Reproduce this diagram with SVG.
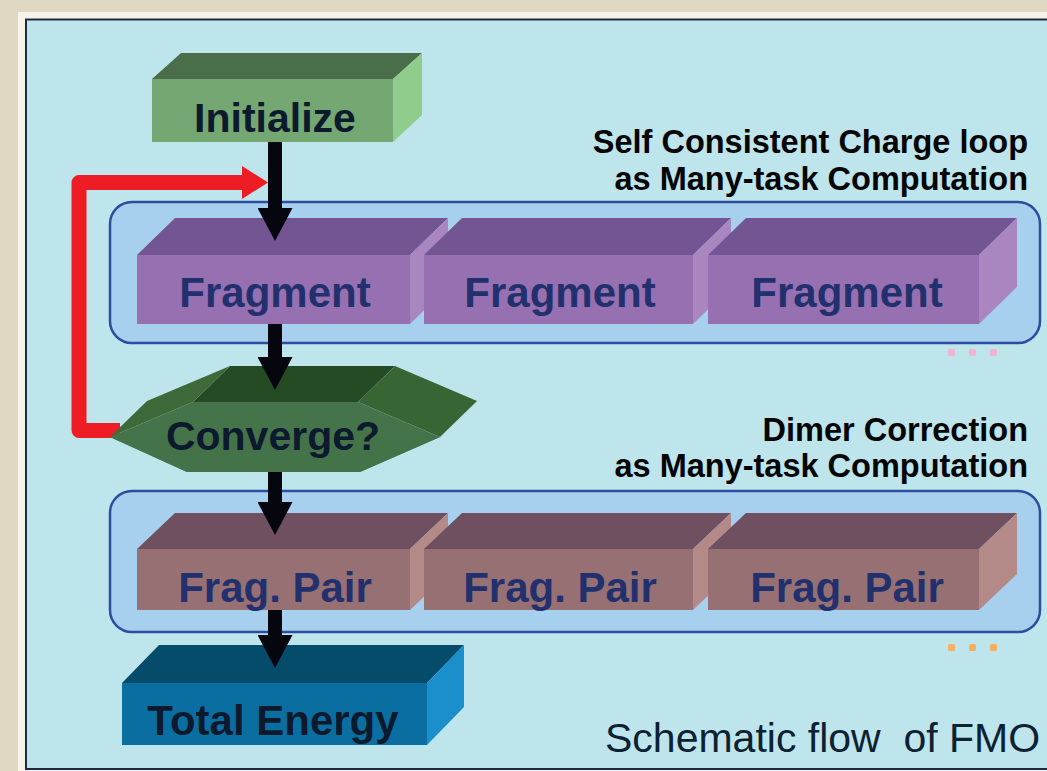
<svg xmlns="http://www.w3.org/2000/svg" width="1047" height="771" viewBox="0 0 1047 771">
<defs>
<style>
.lbl{font-family:"Liberation Sans",Arial,sans-serif;font-weight:bold;text-anchor:middle;}
.dark{fill:#0d1a2e;}
.navy{fill:#22306e;}
.cap{font-family:"Liberation Sans",Arial,sans-serif;font-weight:bold;font-size:32.5px;fill:#050505;text-anchor:end;}
.cont{fill:#a7d0ee;stroke:#2d4e9e;stroke-width:2.5;}
.fr-top{fill:#735593;}
.fr-front{fill:#9670b0;}
.fr-side{fill:#a986bf;}
.fp-top{fill:#6f5060;}
.fp-front{fill:#977073;}
.fp-side{fill:#b38a88;}
.shaft{stroke:#06060f;stroke-width:14;fill:none;marker-end:url(#bk);}
</style>
<marker id="bk" markerUnits="userSpaceOnUse" viewBox="0 0 33 35" markerWidth="33" markerHeight="35" refX="0" refY="17.5" orient="auto">
<path d="M0,0 L33,17.5 L0,35 z" fill="#06060f"/>
</marker>
<marker id="rd" markerUnits="userSpaceOnUse" viewBox="0 0 26 33" markerWidth="26" markerHeight="33" refX="0" refY="16.5" orient="auto">
<path d="M0,0 L26,16.5 L0,33 z" fill="#ee1c24"/>
</marker>
</defs>

<rect x="0" y="0" width="1047" height="771" fill="#dfd9c3"/>
<rect x="18" y="12" width="1040" height="770" fill="#f6f4ea"/>
<rect x="26" y="19.5" width="1030" height="749.5" fill="#bee4ec" stroke="#1a2a40" stroke-width="2"/>

<!-- red loop connector behind hexagon -->
<g id="loop">
<path d="M120,430.5 H79 V182.5 H242" fill="none" stroke="#ee1c24" stroke-width="15" stroke-linejoin="round" marker-end="url(#rd)"/>
</g>

<g id="container-scc">
<rect class="cont" x="110" y="202" width="930" height="141" rx="22"/>
</g>
<g id="container-dimer">
<rect class="cont" x="110" y="491" width="930" height="141" rx="22"/>
</g>

<g id="initialize">
<polygon points="152,79 181,53 422,53 393,79" fill="#4a6e4a"/>
<polygon points="393,79 422,53 422,115 393,142" fill="#90cc8c"/>
<rect x="152" y="79" width="241" height="63" fill="#74a772"/>
<text class="lbl dark" x="275" y="132" font-size="41">Initialize</text>
</g>

<g id="fragment1">
<polygon class="fr-top" points="137,255 175,218 448,218 410,255"/>
<polygon class="fr-side" points="410,255 448,218 448,287 410,324"/>
<rect class="fr-front" x="137" y="255" width="273" height="69"/>
<text class="lbl navy" x="275" y="307" font-size="42">Fragment</text>
</g>
<g id="fragment2">
<polygon class="fr-top" points="424,255 462,218 731,218 693,255"/>
<polygon class="fr-side" points="693,255 731,218 731,287 693,324"/>
<rect class="fr-front" x="424" y="255" width="269" height="69"/>
<text class="lbl navy" x="560" y="307" font-size="42">Fragment</text>
</g>
<g id="fragment3">
<polygon class="fr-top" points="708,255 746,218 1017,218 979,255"/>
<polygon class="fr-side" points="979,255 1017,218 1017,287 979,324"/>
<rect class="fr-front" x="708" y="255" width="271" height="69"/>
<text class="lbl navy" x="847" y="307" font-size="42">Fragment</text>
</g>
<g id="more-fragments" fill="#f0b4d2">
<rect x="948" y="349" width="7" height="7" rx="1.5"/>
<rect x="969" y="349" width="7" height="7" rx="1.5"/>
<rect x="990" y="349" width="7" height="7" rx="1.5"/>
</g>

<g id="converge">
<polygon points="193,402 230,366 395,366 358,402" fill="#254b25"/>
<polygon points="110,437 147,401 230,366 193,402" fill="#3e6a3a"/>
<polygon points="358,402 395,366 477,401 440,437" fill="#386534"/>
<polygon points="193,402 358,402 440,437 360,472 187,472 110,437" fill="#46744a"/>
<polygon points="110,437 440,437 360,472 187,472" fill="#44734a"/>
<text class="lbl dark" x="273" y="450" font-size="41">Converge?</text>
</g>

<g id="pair1">
<polygon class="fp-top" points="137,549 175,513 448,513 410,549"/>
<polygon class="fp-side" points="410,549 448,513 448,574 410,610"/>
<rect class="fp-front" x="137" y="549" width="273" height="61"/>
<text class="lbl navy" x="275" y="602" font-size="42">Frag. Pair</text>
</g>
<g id="pair2">
<polygon class="fp-top" points="424,549 462,513 731,513 693,549"/>
<polygon class="fp-side" points="693,549 731,513 731,574 693,610"/>
<rect class="fp-front" x="424" y="549" width="269" height="61"/>
<text class="lbl navy" x="560" y="602" font-size="42">Frag. Pair</text>
</g>
<g id="pair3">
<polygon class="fp-top" points="708,549 746,513 1017,513 979,549"/>
<polygon class="fp-side" points="979,549 1017,513 1017,574 979,610"/>
<rect class="fp-front" x="708" y="549" width="271" height="61"/>
<text class="lbl navy" x="847" y="602" font-size="42">Frag. Pair</text>
</g>
<g id="more-pairs" fill="#f8b060">
<rect x="948" y="644" width="7" height="7" rx="1.5"/>
<rect x="969" y="644" width="7" height="7" rx="1.5"/>
<rect x="990" y="644" width="7" height="7" rx="1.5"/>
</g>

<g id="total-energy">
<polygon points="122,683 159,645 464,645 427,683" fill="#054b6a"/>
<polygon points="427,683 464,645 464,707 427,745" fill="#1a8fcc"/>
<rect x="122" y="683" width="305" height="62" fill="#0a6fa0"/>
<text class="lbl dark" x="273" y="735" font-size="42">Total Energy</text>
</g>

<g id="connectors">
<line class="shaft" x1="275" y1="142" x2="275" y2="208"/>
<line class="shaft" x1="275" y1="324" x2="275" y2="357"/>
<line class="shaft" x1="275" y1="472" x2="275" y2="502"/>
<line class="shaft" x1="275" y1="610" x2="275" y2="635"/>
</g>

<g id="captions">
<text class="cap" x="1028" y="153">Self Consistent Charge loop</text>
<text class="cap" x="1028" y="190">as Many-task Computation</text>
<text class="cap" x="1028" y="441">Dimer Correction</text>
<text class="cap" x="1028" y="477">as Many-task Computation</text>
<text x="605" y="752" xml:space="preserve" style="white-space:pre" font-family="'Liberation Sans',Arial,sans-serif" font-size="41" fill="#0c2233">Schematic flow  of FMO</text>
</g>
</svg>
